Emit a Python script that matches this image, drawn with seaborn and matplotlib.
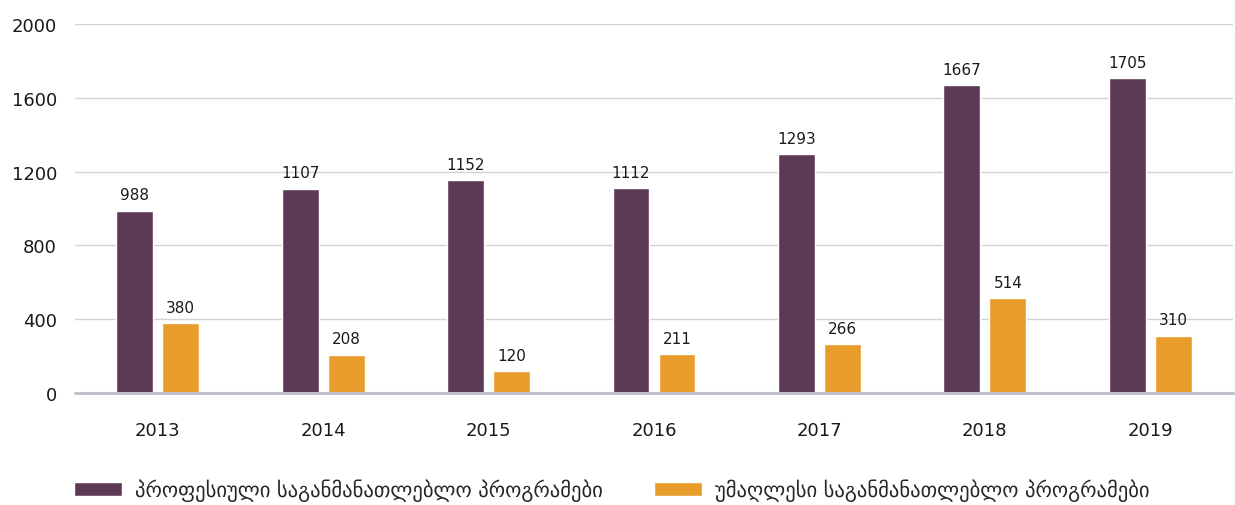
import matplotlib
matplotlib.use("Agg")
import matplotlib.pyplot as plt
import seaborn as sns
import pandas as pd

years = ["2013", "2014", "2015", "2016", "2017", "2018", "2019"]
vocational = [988, 1107, 1152, 1112, 1293, 1667, 1705]
higher = [380, 208, 120, 211, 266, 514, 310]
series_names = ["პროფესიული საგანმანათლებლო პროგრამები",
                "უმაღლესი საგანმანათლებლო პროგრამები"]
colors = ["#5C3A55", "#E89C2B"]
yticks = [0, 400, 800, 1200, 1600, 2000]

df = pd.DataFrame({
    "year": years * 2,
    "value": vocational + higher,
    "series": [series_names[0]] * len(years) + [series_names[1]] * len(years),
})

sns.set_style("white")
plt.rcParams['font.family'] = ['DejaVu Sans']

fig = plt.figure(figsize=(12.35, 5.06), dpi=100)
ax = fig.add_axes([75/1235, 1-394/506, (1233-75)/1235, (394-25)/506])

sns.barplot(data=df, x="year", y="value", hue="series", palette=colors,
            width=0.556, gap=0.196, ax=ax, legend=True, saturation=1)

for c in ax.containers:
    ax.bar_label(c, padding=6, fontsize=11, color="#1a1a1a")

ax.set_ylim(0, 2000)
ax.set_xlim(-0.5, 6.5)
ax.set_yticks(yticks)
ax.set_yticklabels([str(t) for t in yticks])
ax.yaxis.grid(True, color="#D3D3D3", linewidth=1)
ax.set_axisbelow(True)
ax.axhline(0, color="#BEC3C9", linewidth=2.2, zorder=5, clip_on=False)
for s in ax.spines.values():
    s.set_visible(False)
ax.set_xlabel("")
ax.set_ylabel("")
ax.tick_params(axis="both", length=0, labelsize=13, colors="#1a1a1a")
ax.tick_params(axis="x", pad=20)
ax.tick_params(axis="y", pad=13)

handles, labels = ax.get_legend_handles_labels()
ax.get_legend().remove()
fig.legend(handles, labels, loc="center left", bbox_to_anchor=(74/1235, 1-491/506),
           ncol=2, frameon=False, fontsize=14.9, handlelength=2.32, handleheight=0.65,
           handletextpad=0.63, columnspacing=2.46, borderaxespad=0, borderpad=0)

fig.savefig("out.png", dpi=100)
